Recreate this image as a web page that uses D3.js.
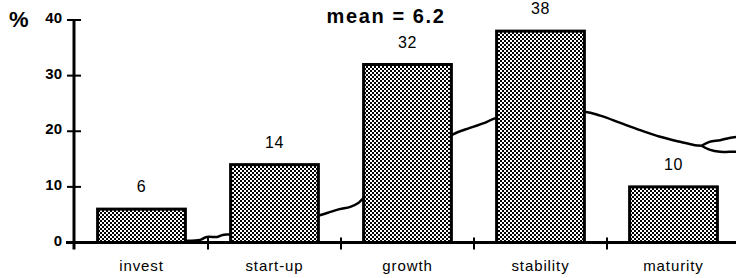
<!DOCTYPE html>
<html>
<head>
<meta charset="utf-8">
<script src="https://cdn.jsdelivr.net/npm/d3@7"></script>
<style>
  body { margin: 0; background: #fff; }
  svg { display: block; }
  text { font-family: "Liberation Sans", Arial, Helvetica, sans-serif; fill: #000; }
</style>
</head>
<body>
<script>
var stages = ["invest", "start-up", "growth", "stability", "maturity"];
var shares = [6, 14, 32, 38, 10];
var yTicks = [0, 10, 20, 30, 40];
var title = "mean = 6.2";

// background curve, x in stage units (0..5), y in %
var curveMain = [[0.83, 0.3], [0.94, 0.45], [0.99, 1.0], [1.07, 1.0], [1.11, 1.35], [1.18, 1.5],
    [1.84, 4.9], [1.92, 5.5], [1.99, 6.0], [2.07, 6.4], [2.13, 7.1], [2.17, 8.0],
    [2.83, 19.3], [2.97, 20.6], [3.08, 21.5], [3.17, 22.4],
    [3.83, 23.5], [3.95, 22.8], [4.10, 21.5], [4.25, 20.2], [4.40, 19.0], [4.55, 18.1],
    [4.66, 17.5], [4.71, 17.4]];
var curveUpper = [[4.71, 17.4], [4.77, 18.1], [4.85, 18.4], [4.92, 18.8], [4.98, 19.0]];
var curveLower = [[4.71, 17.4], [4.77, 16.7], [4.85, 16.3], [4.92, 16.3], [4.98, 16.3]];

var width = 736, height = 278;
var svg = d3.select("body").append("svg").attr("width", width).attr("height", height);

var defs = svg.append("defs");
var pat = defs.append("pattern").attr("id", "dots")
    .attr("patternUnits", "userSpaceOnUse")
    .attr("width", 4).attr("height", 4);
pat.append("rect").attr("width", 4).attr("height", 4).attr("fill", "#fff");
pat.append("rect").attr("x", 0).attr("y", 0).attr("width", 2).attr("height", 2).attr("fill", "#000");
pat.append("rect").attr("x", 2).attr("y", 2).attr("width", 2).attr("height", 2).attr("fill", "#000");

var x = d3.scaleBand().domain(stages).range([75, 740]).paddingInner(0.34).paddingOuter(0.17);
var xc = d3.scaleLinear().domain([0, 5]).range([75, 740]);
var y = d3.scaleLinear().domain([0, 40]).range([242.5, 20]);

// curve (drawn first so the bars cover it)
var line = d3.line().x(function (d) { return xc(d[0]); }).y(function (d) { return y(d[1]); })
    .curve(d3.curveCatmullRom);
[curveMain, curveUpper, curveLower].forEach(function (c) {
    svg.append("path").attr("d", line(c))
        .attr("fill", "none").attr("stroke", "#000").attr("stroke-width", 2.5);
});

// bars
svg.append("g").selectAll("rect").data(stages).enter().append("rect")
    .attr("x", function (d) { return x(d); })
    .attr("y", function (d, i) { return y(shares[i]); })
    .attr("width", x.bandwidth())
    .attr("height", function (d, i) { return y(0) - y(shares[i]); })
    .attr("fill", "url(#dots)")
    .attr("stroke", "#000").attr("stroke-width", 3);

// value labels
svg.append("g").selectAll("text").data(stages).enter().append("text")
    .attr("x", function (d) { return x(d) + x.bandwidth() / 2; })
    .attr("y", function (d, i) { return y(shares[i]) - 17; })
    .attr("text-anchor", "middle")
    .style("font-size", "16px").style("letter-spacing", "0.5px")
    .text(function (d, i) { return shares[i]; });

// x axis
svg.append("line").attr("x1", 66).attr("x2", width).attr("y1", y(0)).attr("y2", y(0))
    .attr("stroke", "#000").attr("stroke-width", 3);
svg.append("g").selectAll("line").data(d3.range(1, 5)).enter().append("line")
    .attr("x1", function (d) { return xc(d); }).attr("x2", function (d) { return xc(d); })
    .attr("y1", y(0) - 5).attr("y2", y(0) + 7)
    .attr("stroke", "#000").attr("stroke-width", 2);
svg.append("g").selectAll("text").data(stages).enter().append("text")
    .attr("x", function (d) { return x(d) + x.bandwidth() / 2; })
    .attr("y", 271)
    .attr("text-anchor", "middle")
    .style("font-size", "15px").style("letter-spacing", "0.9px")
    .text(function (d) { return d; });

// y axis
svg.append("line").attr("x1", 74).attr("x2", 74).attr("y1", y(40)).attr("y2", y(0) + 7)
    .attr("stroke", "#000").attr("stroke-width", 3);
svg.append("g").selectAll("line").data(yTicks).enter().append("line")
    .attr("x1", 67).attr("x2", 81)
    .attr("y1", function (d) { return y(d); }).attr("y2", function (d) { return y(d); })
    .attr("stroke", "#000").attr("stroke-width", 2);
svg.append("g").selectAll("text").data(yTicks).enter().append("text")
    .attr("x", 62)
    .attr("y", function (d) { return y(d) + 3; })
    .attr("text-anchor", "end")
    .style("font-size", "15px").style("font-weight", "bold")
    .text(function (d) { return d; });

svg.append("text").attr("x", 9).attr("y", 27)
    .style("font-size", "22px").style("font-weight", "bold")
    .text("%");

svg.append("text").attr("x", 386).attr("y", 23)
    .attr("text-anchor", "middle")
    .style("font-size", "20px").style("font-weight", "bold").style("letter-spacing", "1.6px")
    .text(title);
</script>
</body>
</html>
